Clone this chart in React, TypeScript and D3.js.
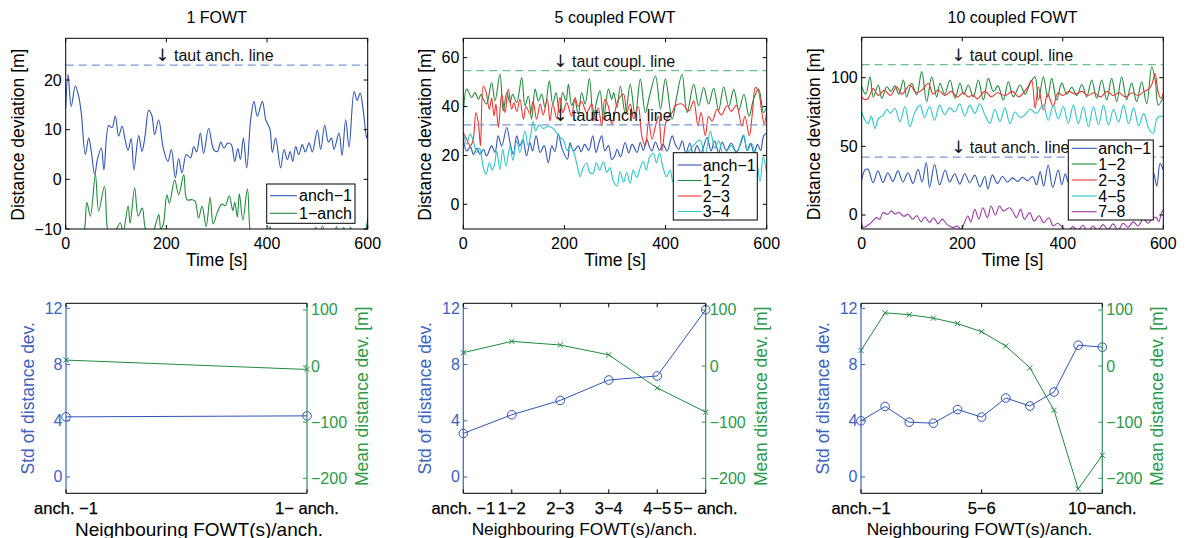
import React from 'react';
import * as d3 from 'd3';

type Pt = [number, number];

// ---------------- DATA ----------------
const timeTicks = [0, 200, 400, 600];
const p1YTicks = [-10, 0, 10, 20];
const p2YTicks = [0, 20, 40, 60];
const p3YTicks = [0, 50, 100];

const p1TautAnch = 23;
const p2TautCoupl = 54.7;
const p2TautAnch = 32.5;
const p3TautCoupl = 109.5;
const p3TautAnch = 42.2;

const p1Anch1: Pt[] = [[0,14.3],[4.6,21.1],[11,14.7],[19,18.8],[25.8,16.7],[31,13.3],[39,5],[45.6,8.3],[51,5.5],[57.6,0.9],[63,4],[70.8,6.3],[76,1.9],[85.4,10.8],[92,10.4],[98.6,12.7],[105.2,8.7],[112,10.7],[118,8],[123.8,5.8],[130,8.2],[135.5,1.9],[145,8.8],[151.6,5.6],[158,9],[164.8,13.9],[171,12.9],[176.8,9],[184.7,12],[194,6.2],[203,3.6],[210,6],[217.8,0.3],[224.5,4.2],[231,1.3],[239.7,5],[248,4.3],[254.3,6.6],[260,5.5],[267.5,9.3],[274,5.2],[284,10.3],[294,6],[301.3,5.6],[308,7.5],[314.6,6.3],[322,7.3],[329,7],[335.8,3.6],[342,6.2],[347,4],[353,8.3],[359.6,2.3],[367.5,12],[374,15.7],[380.8,12.7],[390.7,15.7],[397.4,12],[402,11],[406,10],[410.6,5.4],[417,8.3],[427,2.3],[433.8,6],[440.4,4],[446,5.6],[451,3.6],[457,6.6],[463,5],[470,7],[476,5.5],[483.5,7.3],[490,5.5],[500,9.9],[506.6,6],[514.6,10.9],[522,7.5],[528,8.3],[533,6],[543,9.3],[549,4.8],[556.3,12],[563,6.5],[573,17.7],[579,15.9],[585,17.4],[591,14],[598,8.3],[600,9.5]];
const p1OneAnch: Pt[] = [[0,-16],[20,-14],[33,-11],[37.7,-9.8],[42,-4.6],[49,-7.4],[59,0.9],[65.5,-6.4],[77,-1.4],[83,-10.1],[92,-13],[102,-9.8],[108.5,-8.8],[114,-10.5],[124,-5.4],[128,-8.8],[137,-1.7],[144,-7.4],[152,-5.8],[158,-9.8],[168,-12],[179.5,-8.8],[185,-7.1],[189,-10],[194,-9],[201,-3.1],[206,-4.8],[216.5,-0.1],[224.5,-3.1],[234.5,0.9],[241,-4.1],[251,-4.1],[257,-4.4],[264,-7.8],[271,-5.4],[279,-9.5],[287,-3.6],[293,-9],[301,-6.7],[310,-5],[317,-5.3],[325,-3.3],[332,-6.3],[336,-4.6],[341,-7.6],[345,-2.9],[352,-8.2],[361,-1.9],[366,-10],[375,-15],[390,-17],[400,-13],[406,-9.5],[411,-13],[430,-18],[460,-16],[480,-14],[497,-9.6],[502,-12],[510,-9.4],[517,-12],[528,-14],[538,-9.5],[545,-12],[552,-9.7],[560,-11.5],[566,-9.6],[575,-14],[588,-13],[596,-10.5],[600,-7.8]];

const p2Anch1: Pt[] = [[0,26.6],[6.7,21.8],[14,23.5],[20,20.3],[27,23],[33,20.5],[40,22.5],[46,19.8],[56,23.9],[62.7,21.2],[69,28],[76,23.9],[86,31.4],[92.4,25.2],[99,20.5],[105.6,28],[112,23.9],[118,26.5],[125,19.8],[132,25.2],[137,21.8],[144,28],[152,21.2],[160,24],[168,17],[175,23.9],[181,21.5],[188,28.7],[194.6,23.2],[206,18.4],[211,25.2],[218,21.8],[227.5,23.9],[233,21.5],[240,24.5],[248,22],[256,28],[262.5,21.2],[268,25],[273.7,28],[280,21.8],[287,24],[293.5,18.4],[300,20],[304,22.5],[311,19.5],[320,25.3],[327,21],[334,24.5],[343.6,21.2],[350,25.3],[356,22],[363,26.6],[368,23.5],[373,21.8],[380,25.5],[388,22],[395,24.5],[403,21.8],[413,28],[419,24.6],[426,22.5],[433,26],[440,21],[448,25],[455,20],[462,24],[470,21],[482,27.3],[490,21.8],[497,26],[505,21],[512,25.5],[520,22],[530,25],[540,21.5],[548,24.5],[554.5,28],[561,22],[568,25],[575,21],[582,24.5],[588,22],[594,28],[600,29.3]];
const p2S12: Pt[] = [[0,36.2],[6.7,47.1],[16.6,43.7],[23,45.7],[30,43],[35,45],[39.6,43],[46,41],[56,49.8],[62.7,42.3],[72.6,53.2],[79,38.2],[86,45.7],[92.4,41.6],[97.7,45],[105.6,41.6],[115.5,51.8],[122,40.3],[128.7,44.3],[135,34.8],[142,47.1],[148.4,42.3],[155,45],[161.6,39.6],[170.2,50.5],[176.8,41],[183.4,45.7],[190,37.5],[196.6,45.7],[203,42.3],[207.8,49.1],[214.4,40.3],[220,43],[227.5,36.8],[234,45.7],[241,41],[249.3,51.4],[257.2,34.8],[263.8,42.3],[270.4,46.4],[277,34.8],[287,47.1],[293.5,43],[297.4,45.7],[304,39.6],[310.6,48.4],[320.5,36.8],[330,49.1],[340,36.2],[350,51.2],[360,37.5],[368,44],[380,52.5],[390,38.9],[399.6,51.2],[413,34.8],[422,44],[432.5,53.2],[442.5,37.5],[455.6,49.1],[465.5,40.3],[475.4,47.8],[485,41],[495,47.5],[505,38.5],[515,48],[525,40],[535,47],[545,38.5],[555,45],[565,36],[574,43],[584,47.1],[594,37.5],[600,40]];
const p2S23: Pt[] = [[0,29.3],[6,27],[13.3,23.9],[19,26],[25,37.5],[30,33],[34,23.9],[39.6,48.4],[45,46],[51.5,38.9],[56,43.5],[60.7,36.2],[64.5,41],[69.3,31.4],[76,45],[82.5,37.5],[89,47.1],[95.7,38.9],[100,41.5],[106,38],[112,43],[118.8,34.8],[124,40],[132,37],[138,42],[145,34.8],[152,41],[158,36.5],[166,43],[171.5,34.1],[177,41],[185,35],[191,43.7],[197,37.5],[204.5,41.6],[214,36],[221,43.7],[227,40],[234,42],[244,37.5],[254,41],[260.5,34.1],[267,39.5],[273.7,32],[280,43],[287,40],[293.5,32.7],[300,38],[307,43],[317,45],[323,37.5],[330,41],[337,35],[346,40],[353,28],[360,23.9],[366.6,34.1],[373,26.6],[380,32],[386,36],[393,21.8],[400,33],[406,36],[413,37.5],[419.4,40.3],[432.5,41],[446,38.2],[455.6,42.3],[464,32],[470,37.5],[478.7,28],[485,36],[492,34],[501.8,38.9],[510,36.5],[521.6,40.3],[530,38],[540,40.5],[551,32],[557,36],[565.7,28],[572,38],[577.6,47.8],[584,46],[590,38],[595,33],[600,37.9]];
const p2S34: Pt[] = [[0,29.3],[6.7,24.6],[13.3,28.7],[19,26.5],[26.5,21.2],[32,23],[39.6,15],[45,12.3],[51.5,17],[57,14],[62,16.5],[66,21.8],[72.6,14.3],[78,22.5],[84.5,15.7],[92.4,23.9],[98,18],[105.6,25.9],[112,21.2],[122,30],[128,24],[133,28],[138,33.8],[143,30],[150,32.5],[158,31],[168,31.8],[178,31],[185,29],[191,27.5],[198,26.3],[205,22],[211,24],[218,21.6],[225,16],[231,11.3],[237,15],[244,16.8],[250,13],[257,12.7],[263,17],[270,14],[277,17.5],[284,13],[290,15],[297,9.3],[304,7.5],[310,13.4],[317,9],[323,13],[330,8.6],[336,14],[343,11],[350,15],[356,17.5],[362,14],[368,19],[376,20.9],[382,17],[388,21],[395,15],[402,11.3],[409,14],[415,9],[425,14],[440,20],[455,24],[468,26.3],[478,20],[488.6,30],[497,23],[505,26],[515,20],[530,24],[540,21],[554,28.4],[562,22],[570,25],[580,18],[587,9.3],[593,19.5],[600,12.7]];

const p3Anch1: Pt[] = [[0,25.5],[6.6,32.8],[12.5,33.3],[22.5,23.6],[32.4,32.1],[42.3,23.6],[52,30.8],[62,24.5],[72,32.1],[82,24],[92,30.8],[102,23],[112,33.3],[120,24],[128.4,38.2],[135,20],[145,36.9],[155,22],[166,32.8],[175,24],[185,30],[195,22.5],[205,30],[215,23.5],[225,29],[235,20.6],[245,28],[251,18.9],[260,29],[270,23],[280,28],[290,24],[300,27],[310,24.5],[320,27.5],[330,25],[340,28],[348,22],[355,31.6],[362,21],[371,36.4],[380,20],[391,32.8],[398,22],[405,30],[411,24],[420,29],[430,22],[440,31],[450,23],[460,30],[470,24],[480,31],[490,22],[500,29],[510,23],[520,30],[530,21],[540,32],[550,22],[560,30],[570,23],[580,31],[587,21],[593.5,37.6],[600,32.8]];
const p3S12: Pt[] = [[0,93.4],[8,88],[16.6,100.7],[23,86],[33,94.7],[40,85],[50,93.4],[58,90],[66,94],[74,88],[83,98.3],[89.5,86],[99.5,95.9],[109.4,87.4],[119.4,104.4],[129.3,82.5],[139.3,100.7],[149.2,86],[155.8,95.9],[165,88],[175.7,98.3],[185.7,85],[195.6,95.9],[203,88],[212.2,94.7],[222,86],[232,98.3],[242,83.7],[252,99.5],[262,89.8],[271,94],[281.8,83.7],[291.8,97],[301.7,86],[315,94.7],[325,88],[335,95.9],[344.8,100.7],[351.5,83.7],[361.4,100.7],[370,86],[378,99.5],[388,83.7],[398,96],[408,88],[418,93],[428,87],[438,95],[447.6,86],[457.6,98.3],[467.5,85],[477.5,98.3],[487.4,83.7],[497.3,99.5],[507.3,82.5],[517.2,100.7],[527,84],[537,96],[547,82.5],[557,97],[567,81],[577,108],[584,98],[590,80],[600,86]];
const p3S23: Pt[] = [[0,86],[6,84],[13,85],[23,92],[33,87],[45,91],[57,87],[69.6,93.4],[80,88],[96,94.7],[108,89],[120,91],[132.6,95.9],[142,88],[152,91],[165,87],[178,90],[190,86],[202,89],[212,86],[222,87.4],[230,84.5],[245,90],[258,86],[270,89],[285,87],[300,90],[312,86],[322,89],[330,93],[338,98],[345,77.7],[351.5,93.4],[361.4,76.5],[370,88],[381,79],[390,89],[400,87],[412,90],[425,88],[438,90],[450,87],[462,89],[475,86],[488,90],[500,87],[512,89],[525,86],[538,89],[550,87],[562,90],[572,92],[578,96],[583.6,103],[590,89],[595,85],[600,88.6]];
const p3S45: Pt[] = [[0,75.2],[6.6,69],[13,66.7],[19,72],[26.5,63],[33,70],[43,72.8],[50,77],[57,74],[66,77.7],[76,68],[86,79],[96,64.3],[105,74],[116,80],[125,71],[135,79],[145,69],[155,80],[165,73],[175,78],[185,75],[195,81],[205,72],[215,80],[225,74],[235,81],[245,73],[255,66.7],[265,77],[275,68],[285,78],[295,66.5],[305,75],[315,71],[325,73],[335,77],[348,74],[361,80],[371,69],[381,80],[391,70],[401,79],[411,66.7],[421,80],[431,66.5],[441,79],[451,64.3],[461,79],[471,65.5],[481,80],[491,65.5],[501,77],[511,67.5],[521,80],[531,66.5],[541,78],[551,65],[561,74],[571,63],[580,59.5],[587,70],[594,72],[600,71.6]];
const p3S78: Pt[] = [[0,-6],[2.6,-9.2],[10,-8],[19,-5.6],[29,-1.9],[36,-3],[42.3,1.7],[52,0.5],[59,3],[66,0.8],[74,1.8],[84,-1],[92,0.6],[101,-3],[110,-0.5],[118,-5],[126,-1.5],[135,-5.5],[143,-2],[152,-6.5],[160,-3],[170,-7],[182,-9.2],[190,-8],[198,-10.5],[204,-6],[211,-0.7],[217,-5],[225,4.1],[233,-3],[241,5.3],[250,-2],[257.5,6.5],[266,0],[274,6.5],[282,3],[294,5.3],[300,2.9],[308,-1.9],[316,4.1],[324,-3.2],[334,1.7],[343,-4.4],[353,-0.5],[362,-5.6],[372,-2],[381,-8],[390,-6],[401,-9.7],[410,-12],[420,-8.5],[430,-11],[440,-7.5],[450,-12],[460,-8],[470,-11],[480,-7],[490,-10.5],[500,-6.5],[510,-11],[520,-6],[530,-9],[540,-5],[550,-8],[560,-3],[570,-6],[579,-2],[586,-1.9],[591,-4.9],[597,2.4],[600,3.6]];

const stdTicks = [0, 4, 8, 12];
const meanTicks = [-200, -100, 0, 100];

const cat1 = ['anch. −1', '1− anch.'];
const std1 = [4.28, 4.35];
const mean1 = [10.7, -6];

const cat5 = ['anch. −1', '1−2', '2−3', '3−4', '4−5', '5− anch.'];
const std5 = [3.1, 4.43, 5.45, 6.9, 7.19, 11.9];
const mean5 = [24, 44, 37.6, 20, -39, -82];

const cat10 = ['anch.−1', '1−2', '2−3', '3−4', '4−5', '5−6', '6−7', '7−8', '8−9', '9−10', '10−anch.'];
const cat10Shown = ['anch.−1', '5−6', '10−anch.'];
const std10 = [4.0, 5.02, 3.9, 3.83, 4.8, 4.26, 5.62, 5.05, 6.05, 9.38, 9.24];
const mean10 = [27.9, 95, 91.5, 85.5, 75.8, 61.2, 35.8, -3, -78.8, -219, -159];

// ---------------- STYLE ----------------
const FONT = '"Liberation Sans", Arial, Helvetica, sans-serif';
const BLUE = '#2f54b4';
const GREEN = '#1f8a3c';
const RED = '#f03232';
const CYAN = '#2cc6c6';
const PURPLE = '#9a3aa6';
const DBLUE = '#7a98d6';
const DGREEN = '#6cc08c';
const TBLUE = '#3d62c0';
const TGREEN = '#2a9a48';
const TICK = 4;

const fmt = (v: number) => String(v).replace('-', '−');

type Series = { data: Pt[]; color: string; name: string };
type TopCfg = {
  id: string; title: string; x0: number; x1: number; y0: number; y1: number;
  yDomain: [number, number]; yTicks: number[]; ylabX: number;
  series: Series[];
  dashed: { v: number; color: string; text: string }[];
  legend: { x0: number; y0: number; x1: number; y1: number; rows: number[]; lx0: number; lx1: number; tx: number };
};

function TopPanel({ c }: { c: TopCfg }) {
  const x = d3.scaleLinear().domain([0, 600]).range([c.x0, c.x1]);
  const y = d3.scaleLinear().domain(c.yDomain).range([c.y1, c.y0]);
  const line = d3.line<Pt>().x(d => x(d[0])).y(d => y(d[1])).curve(d3.curveCatmullRom.alpha(0.5));
  const cx = (c.x0 + c.x1) / 2;
  return (
    <g>
      <defs>
        <clipPath id={c.id}><rect x={c.x0} y={c.y0} width={c.x1 - c.x0} height={c.y1 - c.y0} /></clipPath>
      </defs>
      <text x={cx} y={17} textAnchor="middle" dominantBaseline="central" fontSize={16}>{c.title}</text>
      <g clipPath={`url(#${c.id})`}>
        {c.series.map((s, i) => (
          <path key={i} d={line(s.data) || ''} fill="none" stroke={s.color} strokeWidth={1.1} />
        ))}
        {c.dashed.map((dl, i) => (
          <line key={i} x1={c.x0} x2={c.x1} y1={y(dl.v)} y2={y(dl.v)} stroke={dl.color} strokeWidth={1.3} strokeDasharray="8,5" />
        ))}
      </g>
      {c.dashed.map((dl, i) => (
        <text key={i} x={x(178)} y={y(dl.v) - 10} dominantBaseline="central" fontSize={16} fill="#111">
          <tspan fontFamily='"DejaVu Sans", sans-serif' fontSize={17}>↓</tspan>
          <tspan>{' ' + dl.text}</tspan>
        </text>
      ))}
      <rect x={c.x0} y={c.y0} width={c.x1 - c.x0} height={c.y1 - c.y0} fill="none" stroke="#000" strokeWidth={1} />
      {timeTicks.map(t => (
        <g key={t}>
          <line x1={x(t)} x2={x(t)} y1={c.y1} y2={c.y1 - TICK} stroke="#000" />
          <line x1={x(t)} x2={x(t)} y1={c.y0} y2={c.y0 + TICK} stroke="#000" />
          <text x={x(t)} y={c.y1 + 14} textAnchor="middle" dominantBaseline="central" fontSize={16}>{fmt(t)}</text>
        </g>
      ))}
      {c.yTicks.map(v => (
        <g key={v}>
          <line x1={c.x0} x2={c.x0 + TICK} y1={y(v)} y2={y(v)} stroke="#000" />
          <line x1={c.x1} x2={c.x1 - TICK} y1={y(v)} y2={y(v)} stroke="#000" />
          <text x={c.x0 - 4} y={y(v)} textAnchor="end" dominantBaseline="central" fontSize={16}>{fmt(v)}</text>
        </g>
      ))}
      <text x={cx} y={260} textAnchor="middle" dominantBaseline="central" fontSize={17.5}>Time [s]</text>
      <text transform={`translate(${c.ylabX},${(c.y0 + c.y1) / 2 + 1}) rotate(-90)`} textAnchor="middle" dominantBaseline="central" fontSize={17.5}>Distance deviation [m]</text>
      <rect x={c.legend.x0} y={c.legend.y0} width={c.legend.x1 - c.legend.x0} height={c.legend.y1 - c.legend.y0} fill="#fff" stroke="#000" strokeWidth={1} />
      {c.series.map((s, i) => (
        <g key={i}>
          <line x1={c.legend.lx0} x2={c.legend.lx1} y1={c.legend.rows[i]} y2={c.legend.rows[i]} stroke={s.color} strokeWidth={1.1} />
          <text x={c.legend.tx} y={c.legend.rows[i]} dominantBaseline="central" fontSize={16}>{s.name}</text>
        </g>
      ))}
    </g>
  );
}

type BotCfg = {
  x0: number; x1: number; y0: number; y1: number;
  cats: string[]; shown: string[]; std: number[]; mean: number[];
  xlabX: number; xlabSize: number;
};

function BottomPanel({ c }: { c: BotCfg }) {
  const x = d3.scalePoint<string>().domain(c.cats).range([c.x0, c.x1]);
  const yl = d3.scaleLinear().domain([-1.16, 12.36]).range([c.y1, c.y0]);
  const yr = d3.scaleLinear().domain([-226.7, 111.9]).range([c.y1, c.y0]);
  const lineL = d3.line<number>().x((_, i) => x(c.cats[i]) as number).y(d => yl(d));
  const lineR = d3.line<number>().x((_, i) => x(c.cats[i]) as number).y(d => yr(d));
  return (
    <g>
      <line x1={c.x0} x2={c.x1} y1={c.y0} y2={c.y0} stroke="#000" />
      <line x1={c.x0} x2={c.x1} y1={c.y1} y2={c.y1} stroke="#000" />
      <path d={lineR(c.mean) || ''} fill="none" stroke={GREEN} strokeWidth={1} />
      {c.mean.map((v, i) => {
        const px = x(c.cats[i]) as number; const py = yr(v); const s = 2.6;
        return <path key={i} d={`M${px - s},${py - s}L${px + s},${py + s}M${px - s},${py + s}L${px + s},${py - s}`} stroke={GREEN} strokeWidth={1} />;
      })}
      <path d={lineL(c.std) || ''} fill="none" stroke={BLUE} strokeWidth={1} />
      {c.std.map((v, i) => (
        <circle key={i} cx={x(c.cats[i]) as number} cy={yl(v)} r={4.3} fill="none" stroke={BLUE} strokeWidth={1} />
      ))}
      <line x1={c.x0} x2={c.x0} y1={c.y0} y2={c.y1} stroke={TBLUE} strokeWidth={1.2} />
      <line x1={c.x1} x2={c.x1} y1={c.y0} y2={c.y1} stroke={'#3a8a6a'} strokeWidth={1.2} />
      {stdTicks.map(v => (
        <g key={v}>
          <line x1={c.x0} x2={c.x0 + TICK} y1={yl(v)} y2={yl(v)} stroke={TBLUE} />
          <text x={c.x0 - 3.5} y={yl(v)} textAnchor="end" dominantBaseline="central" fontSize={16} fill={TBLUE}>{fmt(v)}</text>
        </g>
      ))}
      {meanTicks.map(v => (
        <g key={v}>
          <line x1={c.x1} x2={c.x1 - TICK} y1={yr(v)} y2={yr(v)} stroke={TGREEN} />
          <text x={c.x1 + 4} y={yr(v)} textAnchor="start" dominantBaseline="central" fontSize={16} fill={TGREEN}>{fmt(v)}</text>
        </g>
      ))}
      {c.shown.map(k => (
        <g key={k}>
          <line x1={x(k) as number} x2={x(k) as number} y1={c.y1} y2={c.y1 - TICK} stroke="#000" />
          <line x1={x(k) as number} x2={x(k) as number} y1={c.y0} y2={c.y0 + TICK} stroke="#000" />
          <text x={x(k) as number} y={508} textAnchor="middle" dominantBaseline="central" fontSize={16.5} fill="#000" stroke="#000" strokeWidth={0.25}>{k}</text>
        </g>
      ))}
      <text x={c.xlabX} y={529} textAnchor="middle" dominantBaseline="central" fontSize={c.xlabSize}>Neighbouring FOWT(s)/anch.</text>
      <text transform={`translate(${c.x0 - 38.5},${(c.y0 + c.y1) / 2}) rotate(-90)`} textAnchor="middle" dominantBaseline="central" fontSize={17.5} fill={TBLUE}>Std of distance dev.</text>
      <text transform={`translate(${c.x1 + 55},${(c.y0 + c.y1) / 2 - 2}) rotate(-90)`} textAnchor="middle" dominantBaseline="central" fontSize={17.5} fill={TGREEN}>Mean distance dev. [m]</text>
    </g>
  );
}

export default function App() {
  const tops: TopCfg[] = [
    {
      id: 'cp1', title: '1 FOWT', x0: 65.7, x1: 367.7, y0: 38.3, y1: 229, yDomain: [-10, 28.4], yTicks: p1YTicks, ylabX: 17.5,
      series: [
        { data: p1Anch1, color: BLUE, name: 'anch−1' },
        { data: p1OneAnch, color: GREEN, name: '1−anch' },
      ],
      dashed: [{ v: p1TautAnch, color: DBLUE, text: 'taut anch. line' }],
      legend: { x0: 266.7, y0: 184, x1: 355, y1: 223.3, rows: [195.7, 213.3], lx0: 270, lx1: 297, tx: 299 },
    },
    {
      id: 'cp2', title: '5 coupled FOWT', x0: 463.3, x1: 766.7, y0: 38.3, y1: 229, yDomain: [-10.1, 67.9], yTicks: p2YTicks, ylabX: 425,
      series: [
        { data: p2Anch1, color: BLUE, name: 'anch−1' },
        { data: p2S12, color: GREEN, name: '1−2' },
        { data: p2S23, color: RED, name: '2−3' },
        { data: p2S34, color: CYAN, name: '3−4' },
      ],
      dashed: [
        { v: p2TautCoupl, color: DGREEN, text: 'taut coupl. line' },
        { v: p2TautAnch, color: DBLUE, text: 'taut anch. line' },
      ],
      legend: { x0: 673.3, y0: 152.7, x1: 757.3, y1: 220, rows: [165, 180.5, 196, 211.5], lx0: 677.7, lx1: 701.7, tx: 702.7 },
    },
    {
      id: 'cp3', title: '10 coupled FOWT', x0: 861.7, x1: 1163.3, y0: 37.3, y1: 229, yDomain: [-10.2, 129.4], yTicks: p3YTicks, ylabX: 813.5,
      series: [
        { data: p3Anch1, color: BLUE, name: 'anch−1' },
        { data: p3S12, color: GREEN, name: '1−2' },
        { data: p3S23, color: RED, name: '2−3' },
        { data: p3S45, color: CYAN, name: '4−5' },
        { data: p3S78, color: PURPLE, name: '7−8' },
      ],
      dashed: [
        { v: p3TautCoupl, color: DGREEN, text: 'taut coupl. line' },
        { v: p3TautAnch, color: DBLUE, text: 'taut anch. line' },
      ],
      legend: { x0: 1068.3, y0: 140, x1: 1153.3, y1: 220, rows: [148.3, 164, 180, 196, 211.7], lx0: 1071.7, lx1: 1096.7, tx: 1098.3 },
    },
  ];
  const bots: BotCfg[] = [
    { x0: 66, x1: 307, y0: 303.3, y1: 493.3, cats: cat1, shown: cat1, std: std1, mean: mean1, xlabX: 199, xlabSize: 19 },
    { x0: 463.3, x1: 705.7, y0: 303.3, y1: 493.3, cats: cat5, shown: cat5, std: std5, mean: mean5, xlabX: 584.5, xlabSize: 17.3 },
    { x0: 861, x1: 1102.3, y0: 303.3, y1: 493.3, cats: cat10, shown: cat10Shown, std: std10, mean: mean10, xlabX: 979.5, xlabSize: 17.3 },
  ];
  return (
    <svg width={1187} height={538} style={{ position: 'absolute', left: 0, top: 0, background: '#fff' }} fontFamily={FONT}>
      <rect x={0} y={0} width={1187} height={538} fill="#fff" />
      {tops.map(c => <TopPanel key={c.id} c={c} />)}
      {bots.map((c, i) => <BottomPanel key={i} c={c} />)}
    </svg>
  );
}
